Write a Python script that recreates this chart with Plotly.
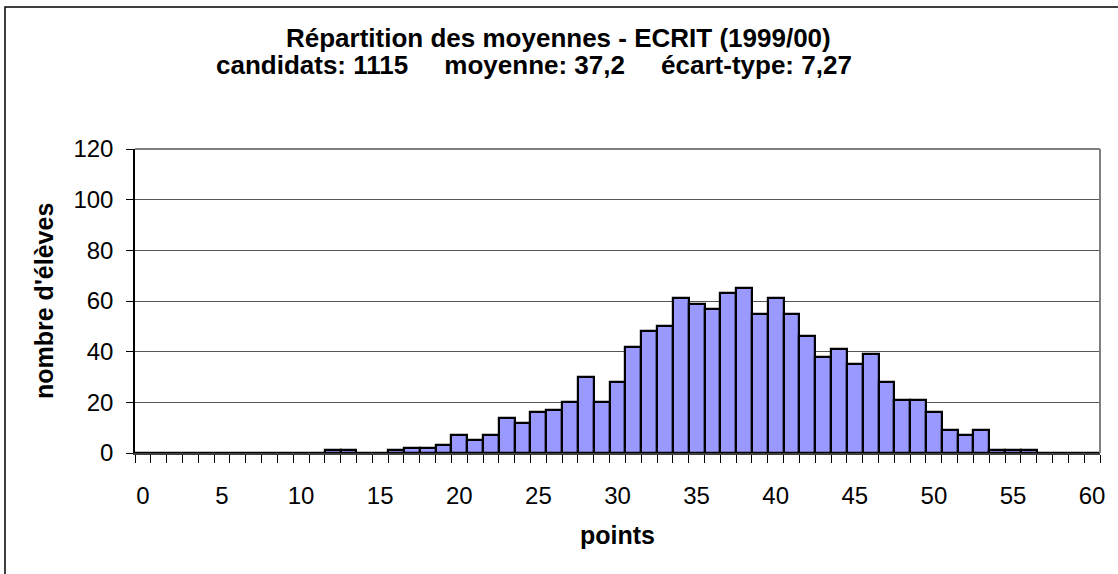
import plotly.graph_objects as go

# ---- data ----
points = list(range(0, 61))
counts = [0, 0, 0, 0, 0, 0, 0, 0, 0, 0,
          0, 0, 1, 1, 0, 0, 1, 2, 2, 3,
          7, 5, 7, 14, 12, 16, 17, 20, 30, 20,
          28, 42, 48, 50, 61, 59, 57, 63, 65, 55,
          61, 55, 46, 38, 41, 35, 39, 28, 21, 21,
          16, 9, 7, 9, 1, 1, 1, 0, 0, 0,
          0]
x_tick_labels = [0, 5, 10, 15, 20, 25, 30, 35, 40, 45, 50, 55, 60]
y_tick_labels = [0, 20, 40, 60, 80, 100, 120]
minor_tick_pos = [p - 0.5 for p in range(0, 62)]

title_line1 = "Répartition des moyennes - ECRIT (1999/00)"
nb = "\u00a0"
title_line2 = ("candidats: 1115" + nb * 5 + "moyenne: 37,2" + nb * 5 + "écart-type: 7,27")

W, H = 1118, 574
L, R, T, B = 135, 1100, 149, 453
pw, ph = R - L, B - T

FONT = "Liberation Sans, Arial, sans-serif"

fig = go.Figure()
fig.add_trace(go.Bar(
    x=points, y=counts,
    marker=dict(color="#9999FF", line=dict(color="black", width=2.2)),
    hoverinfo="x+y",
))

def px(xp):
    return (xp - L) / pw

def py(yp):
    return (B - yp) / ph

fig.update_layout(
    width=W, height=H,
    margin=dict(l=L, r=W - R, t=T, b=H - B, pad=0),
    paper_bgcolor="white", plot_bgcolor="white",
    bargap=0,
    showlegend=False,
    font=dict(family=FONT, color="black", size=24),
    xaxis=dict(
        range=[-0.5, 60.5],
        tickmode="array", tickvals=x_tick_labels,
        ticktext=[str(v) for v in x_tick_labels],
        ticks="outside", ticklen=20, tickcolor="rgba(0,0,0,0)",
        showgrid=False, zeroline=False,
        showline=True, linecolor="#404040", linewidth=1.5,
        tickfont=dict(size=24, family=FONT),
        minor=dict(tickmode="array", tickvals=minor_tick_pos, ticks="outside",
                   ticklen=8, tickcolor="black", tickwidth=1, showgrid=False),
        fixedrange=True,
    ),
    yaxis=dict(
        range=[0, 120],
        tickmode="array", tickvals=y_tick_labels,
        ticks="outside", ticklen=7, tickcolor="black", tickwidth=1,
        showgrid=True, gridcolor="#555555", gridwidth=1,
        zeroline=False,
        showline=True, linecolor="black", linewidth=1.5,
        tickfont=dict(size=24, family=FONT),
        ticklabelstandoff=8,
        fixedrange=True,
    ),
    shapes=[
        dict(type="line", xref="paper", yref="paper", x0=0, x1=1, y0=1, y1=1,
             line=dict(color="#808080", width=2)),
        dict(type="line", xref="paper", yref="paper", x0=1, x1=1, y0=0, y1=1,
             line=dict(color="#808080", width=2)),
        dict(type="rect", xref="paper", yref="paper",
             x0=px(5), x1=px(1130), y0=py(600), y1=py(7),
             line=dict(color="black", width=1.5), fillcolor="rgba(0,0,0,0)"),
    ],
    annotations=[
        dict(text="<b>" + title_line1 + "</b>", xref="paper", yref="paper",
             x=px(558), y=py(38), xanchor="center", yanchor="middle",
             showarrow=False, font=dict(size=26, family=FONT)),
        dict(text="<b>" + title_line2 + "</b>", xref="paper", yref="paper",
             x=px(534), y=py(65), xanchor="center", yanchor="middle",
             showarrow=False, font=dict(size=26, family=FONT)),
        dict(text="<b>points</b>", xref="paper", yref="paper",
             x=0.5, y=py(535), xanchor="center", yanchor="middle",
             showarrow=False, font=dict(size=25, family=FONT)),
        dict(text="<b>nombre d'élèves</b>", xref="paper", yref="paper",
             x=px(44), y=0.5, xanchor="center", yanchor="middle", textangle=-90,
             showarrow=False, font=dict(size=25, family=FONT)),
    ],
)

fig.write_html("out.html", config={"displayModeBar": False},
               post_script="document.body.style.margin='0';document.body.style.padding='0';")
